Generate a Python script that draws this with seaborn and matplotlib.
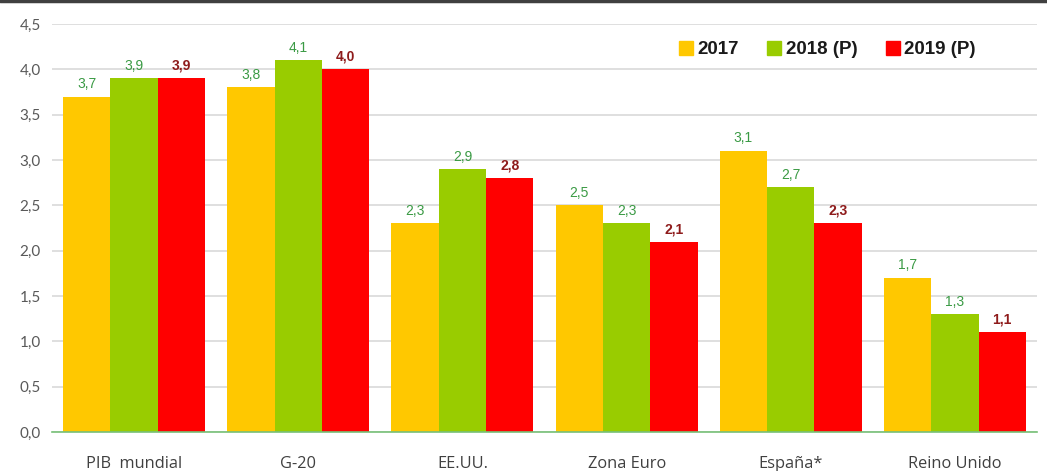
import matplotlib
matplotlib.use("Agg")
import matplotlib.pyplot as plt
import seaborn as sns
import pandas as pd
from matplotlib.lines import Line2D

categories = ["PIB  mundial", "G-20", "EE.UU.", "Zona Euro", "España*", "Reino Unido"]
series_names = ["2017", "2018 (P)", "2019 (P)"]
v2017 = [3.7, 3.8, 2.3, 2.5, 3.1, 1.7]
v2018 = [3.9, 4.1, 2.9, 2.3, 2.7, 1.3]
v2019 = [3.9, 4.0, 2.8, 2.1, 2.3, 1.1]
yticks = [0.0, 0.5, 1.0, 1.5, 2.0, 2.5, 3.0, 3.5, 4.0, 4.5]

colors = ["#FFC800", "#99CC00", "#FF0000"]
label_colors = ["#3A9A44", "#3A9A44", "#8E1B1B"]
label_weights = ["normal", "normal", "bold"]

rows = []
for name, vals in zip(series_names, [v2017, v2018, v2019]):
    for c, v in zip(categories, vals):
        rows.append({"cat": c, "serie": name, "val": v})
df = pd.DataFrame(rows)

sns.set_theme(style="white")
plt.rcParams["font.family"] = ["Lato", "DejaVu Sans"]

fig = plt.figure(figsize=(10.47, 4.71), dpi=100)
ax = fig.add_axes([0.0497, 0.0828, 0.9408, 0.8662])

sns.barplot(data=df, x="cat", y="val", hue="serie", order=categories,
            hue_order=series_names, palette=colors, width=0.865, gap=0,
            saturation=1, edgecolor="none", linewidth=0, ax=ax, errorbar=None)

ax.set_ylim(0, 4.5)
ax.set_xlim(-0.5, 5.5)
ax.set_yticks(yticks)
ax.set_yticklabels([f"{t:.1f}".replace(".", ",") for t in yticks],
                   fontsize=11, color="#595959")
ax.tick_params(axis="x", length=0, pad=17)
for lbl in ax.get_xticklabels():
    lbl.set_fontfamily(["Open Sans", "DejaVu Sans"])
    lbl.set_fontsize(11.8)
    lbl.set_color("#404040")
ax.tick_params(axis="y", length=0, pad=8)
ax.set_xlabel("")
ax.set_ylabel("")
ax.grid(axis="y", color="#D9D9D9", linewidth=1.2)
ax.set_axisbelow(True)
for s in ["top", "right", "left"]:
    ax.spines[s].set_visible(False)
ax.spines["bottom"].set_color("#77C077")
ax.spines["bottom"].set_linewidth(1.2)

for cont, col, w in zip(ax.containers, label_colors, label_weights):
    ax.bar_label(cont, labels=[f"{b.get_height():.1f}".replace(".", ",") for b in cont],
                 padding=4, fontsize=10, color=col, fontweight=w,
                 family=["Liberation Sans", "DejaVu Sans"])

handles = [plt.Rectangle((0, 0), 1, 1, color=c) for c in colors]
leg = ax.legend(handles, series_names, ncol=3, loc="upper right",
                bbox_to_anchor=(0.955, 1.0), frameon=False,
                handlelength=0.75, handleheight=0.75, handletextpad=0.25,
                columnspacing=1.5,
                prop={"family": "Liberation Sans", "weight": "bold", "size": 13.5})
for t in leg.get_texts():
    t.set_color("#1A1A1A")

fig.add_artist(Line2D([0, 1], [0.997, 0.997], transform=fig.transFigure,
                      color="#404040", linewidth=2.5))

fig.savefig("out.png", dpi=100)
